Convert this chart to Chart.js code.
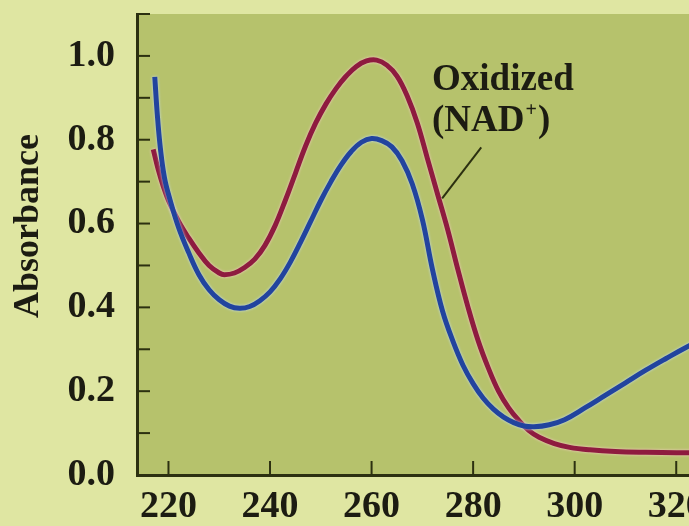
<!DOCTYPE html>
<html>
<head>
<meta charset="utf-8">
<script src="https://cdn.jsdelivr.net/npm/chart.js@4.4.0/dist/chart.umd.min.js"></script>
<style>
  html, body { margin: 0; padding: 0; background: #dfe6a2; overflow: hidden; }
  #wrap { width: 727px; height: 526px; }
</style>
</head>
<body>
<div id="wrap"><canvas id="spectrum"></canvas></div>
<script>
// Oxidized form (NAD+)
const oxWavelengths = [217, 218, 219, 220, 222, 224, 226, 228, 230, 231, 233, 235, 237, 239, 241, 243, 245, 247, 249, 251,
  253, 255, 257, 259, 261, 263, 265, 267, 269, 271, 273, 275, 277, 279, 281, 283, 285, 287, 289, 291,
  293, 296, 299, 303, 308, 314, 320, 330];
const oxAbsorbance = [0.777, 0.728, 0.688, 0.655, 0.605, 0.565, 0.53, 0.5, 0.482, 0.478, 0.482, 0.495, 0.515, 0.548, 0.595, 0.655, 0.72, 0.785, 0.84, 0.885,
  0.922, 0.952, 0.975, 0.988, 0.99, 0.978, 0.952, 0.905, 0.84, 0.755, 0.67, 0.585, 0.49, 0.4, 0.32, 0.255, 0.2, 0.16, 0.13, 0.106,
  0.09, 0.075, 0.066, 0.06, 0.056, 0.054, 0.053, 0.053];

// Reduced form (NADH)
const redWavelengths = [217.3, 217.8, 218.4, 219.2, 220.3, 222, 224, 226, 228, 230, 232, 234, 236, 238, 240, 242, 244, 246, 248, 250,
  252, 254, 256, 258, 260, 262, 264, 266, 268, 270, 272, 274, 276, 278, 280, 282, 284, 286, 288, 290,
  292, 295, 298, 302, 306, 310, 314, 318, 322, 330];
const redAbsorbance = [0.95, 0.86, 0.78, 0.71, 0.657, 0.59, 0.53, 0.478, 0.442, 0.418, 0.403, 0.398, 0.402, 0.416, 0.437, 0.468, 0.508, 0.555, 0.605, 0.655,
  0.7, 0.74, 0.772, 0.794, 0.803, 0.798, 0.783, 0.75, 0.695, 0.61, 0.49, 0.39, 0.32, 0.262, 0.218, 0.183, 0.157, 0.138, 0.125, 0.117,
  0.115, 0.12, 0.132, 0.16, 0.19, 0.22, 0.25, 0.278, 0.305, 0.355];

const xTickValues = [220, 240, 260, 280, 300, 320];
const yTickValues = [0, 0.1, 0.2, 0.3, 0.4, 0.5, 0.6, 0.7, 0.8, 0.9, 1.0, 1.1];
const yTickLabels = ['0.0', '0.2', '0.4', '0.6', '0.8', '1.0'];
const yTitle = 'Absorbance';

const axisColor = '#2c3010';
const textColor = '#1c1c12';
const plotColor = '#b6c26c';
const serif = 'Liberation Serif';

function toPoints(xs, ys) {
  return xs.map(function(x, i) { return { x: x, y: ys[i] }; });
}

// paints the plot background, the inward tick marks, the axis title and the label
const decor = {
  id: 'decor',
  beforeDraw: function(chart) {
    const ctx = chart.ctx;
    const area = chart.chartArea;
    ctx.save();
    ctx.fillStyle = plotColor;
    ctx.fillRect(area.left, area.top, area.right - area.left, area.bottom - area.top);
    ctx.restore();
  },
  beforeDatasetsDraw: function(chart) {
    const ctx = chart.ctx;
    const area = chart.chartArea;
    const xs = chart.scales.x;
    const ys = chart.scales.y;
    ctx.save();
    ctx.strokeStyle = axisColor;
    ctx.lineWidth = 2;
    xTickValues.forEach(function(v) {
      const px = xs.getPixelForValue(v);
      ctx.beginPath();
      ctx.moveTo(px, area.bottom);
      ctx.lineTo(px, area.bottom - 14);
      ctx.stroke();
    });
    yTickValues.forEach(function(v) {
      const py = ys.getPixelForValue(v);
      ctx.beginPath();
      ctx.moveTo(area.left, py);
      ctx.lineTo(area.left + 13, py);
      ctx.stroke();
    });
    ctx.restore();
  },
  // soft pale edge round each printed curve
  beforeDatasetDraw: function(chart, args) {
    const ctx = chart.ctx;
    ctx.save();
    ctx.shadowColor = args.index === 0 ? 'rgba(200,225,255,0.9)' : 'rgba(255,205,210,0.9)';
    ctx.shadowBlur = 3;
  },
  afterDatasetDraw: function(chart) {
    chart.ctx.restore();
  },
  afterDraw: function(chart) {
    const ctx = chart.ctx;
    const area = chart.chartArea;
    const xs = chart.scales.x;
    const ys = chart.scales.y;
    ctx.save();
    ctx.fillStyle = textColor;

    // y axis title
    ctx.save();
    ctx.translate(area.left - 108, ys.getPixelForValue(0.594));
    ctx.rotate(-Math.PI / 2);
    ctx.font = 'bold 36px "' + serif + '"';
    ctx.textAlign = 'center';
    ctx.textBaseline = 'middle';
    ctx.fillText(yTitle, 0, 0);
    ctx.restore();

    // "Oxidized (NAD+)" label with leader line
    const lx = xs.getPixelForValue(271.9);
    ctx.font = 'bold 37px "' + serif + '"';
    ctx.textAlign = 'left';
    ctx.textBaseline = 'alphabetic';
    ctx.fillText('Oxidized', lx, ys.getPixelForValue(0.918));
    const by = ys.getPixelForValue(0.82);
    const w = ctx.measureText('(NAD').width;
    ctx.fillText('(NAD', lx, by);
    ctx.font = 'bold 20px "' + serif + '"';
    ctx.fillText('+', lx + w + 1, by - 15);
    const pw = ctx.measureText('+').width;
    ctx.font = 'bold 37px "' + serif + '"';
    ctx.fillText(')', lx + w + pw + 2, by);

    ctx.strokeStyle = axisColor;
    ctx.lineWidth = 2;
    ctx.beginPath();
    ctx.moveTo(xs.getPixelForValue(281.6), ys.getPixelForValue(0.782));
    ctx.lineTo(xs.getPixelForValue(273.9), ys.getPixelForValue(0.66));
    ctx.stroke();
    ctx.restore();
  }
};

const tickFont = { family: serif, size: 38, weight: 'bold' };

new Chart(document.getElementById('spectrum'), {
  type: 'line',
  data: {
    datasets: [
      {
        label: 'Reduced (NADH)',
        data: toPoints(redWavelengths, redAbsorbance),
        borderColor: '#22449e',
        borderWidth: 5,
        pointRadius: 0,
        tension: 0.4,
        order: 0
      },
      {
        label: 'Oxidized (NAD+)',
        data: toPoints(oxWavelengths, oxAbsorbance),
        borderColor: '#8e1b3f',
        borderWidth: 5,
        pointRadius: 0,
        tension: 0.4,
        order: 1
      }
    ]
  },
  options: {
    responsive: true,
    maintainAspectRatio: false,
    animation: false,
    layout: { padding: { top: 14, left: 0, right: 0, bottom: 0 } },
    plugins: {
      legend: { display: false },
      tooltip: { enabled: false }
    },
    scales: {
      x: {
        type: 'linear',
        min: 213.8,
        max: 330,
        afterBuildTicks: function(scale) {
          scale.ticks = xTickValues.map(function(v) { return { value: v }; });
        },
        afterFit: function(scale) {
          scale.height = 51;
          scale.paddingLeft = 0;
          scale.paddingRight = 0;
        },
        grid: { display: false, drawTicks: false },
        border: { display: true, color: axisColor, width: 3 },
        ticks: {
          color: textColor,
          font: tickFont,
          padding: 9,
          maxRotation: 0,
          autoSkip: false
        }
      },
      y: {
        min: 0,
        max: 1.1,
        afterBuildTicks: function(scale) {
          scale.ticks = yTickValues.map(function(v) { return { value: v }; });
        },
        afterFit: function(scale) {
          scale.width = 137;
          scale.paddingTop = 0;
          scale.paddingBottom = 0;
        },
        grid: { display: false, drawTicks: false },
        border: { display: true, color: axisColor, width: 3 },
        ticks: {
          color: textColor,
          font: tickFont,
          padding: 22,
          autoSkip: false,
          callback: function(value) {
            const label = value.toFixed(1);
            return yTickLabels.indexOf(label) >= 0 ? label : '';
          }
        }
      }
    }
  },
  plugins: [decor]
});
</script>
</body>
</html>
